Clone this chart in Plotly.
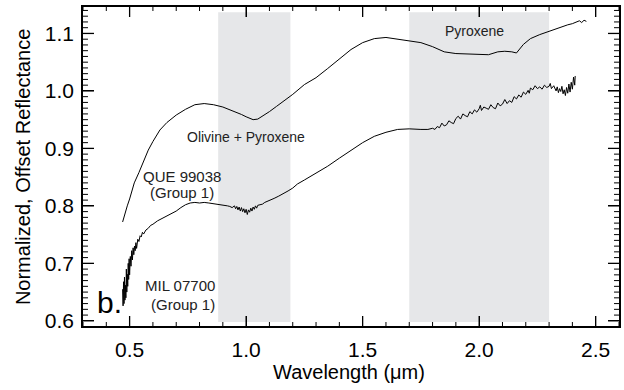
import plotly.graph_objects as go

# Upper spectrum: QUE 99038 (Group 1)
que_x = [0.47, 0.48, 0.49, 0.50, 0.51, 0.52, 0.54, 0.56, 0.58, 0.60, 0.63, 0.66, 0.70, 0.74, 0.78,
         0.82, 0.86, 0.90, 0.94, 0.98, 1.00, 1.03, 1.05, 1.07, 1.10, 1.13, 1.16, 1.20, 1.25,
         1.30, 1.35, 1.40, 1.45, 1.50, 1.55, 1.60, 1.65, 1.70, 1.75, 1.80, 1.85, 1.90, 1.95,
         2.00, 2.04, 2.08, 2.11, 2.14, 2.16, 2.19, 2.22, 2.26, 2.30, 2.34, 2.38, 2.40, 2.42,
         2.43, 2.44, 2.45, 2.46]
que_y = [0.772, 0.788, 0.800, 0.812, 0.828, 0.840, 0.858, 0.878, 0.897, 0.912, 0.932, 0.945,
         0.958, 0.968, 0.976, 0.978, 0.976, 0.972, 0.966, 0.959, 0.955, 0.950, 0.951, 0.956,
         0.964, 0.973, 0.982, 0.994, 1.011, 1.023, 1.039, 1.056, 1.072, 1.084, 1.091, 1.093,
         1.090, 1.088, 1.084, 1.077, 1.068, 1.065, 1.064, 1.063, 1.063, 1.068, 1.069, 1.068,
         1.066, 1.081, 1.091, 1.098, 1.104, 1.110, 1.115, 1.117, 1.120, 1.122, 1.119, 1.123,
         1.121]

# Lower spectrum: MIL 07700 (Group 1)
mil_x = [0.470, 0.472, 0.474, 0.476, 0.478, 0.480, 0.482, 0.484, 0.486, 0.488, 0.490, 0.492,
         0.494, 0.496, 0.498, 0.500, 0.503, 0.506, 0.509, 0.512, 0.515, 0.518, 0.521, 0.524,
         0.527, 0.530, 0.535, 0.540, 0.545, 0.550, 0.555, 0.560, 0.57, 0.58, 0.59, 0.60, 0.62,
         0.64, 0.66, 0.68, 0.70, 0.72, 0.74, 0.76, 0.78, 0.80, 0.82, 0.84, 0.86, 0.88, 0.90,
         0.92, 0.93, 0.94, 0.95, 0.955, 0.96, 0.965, 0.97, 0.975, 0.98, 0.985, 0.99, 0.995,
         1.00, 1.005, 1.01, 1.015, 1.02, 1.025, 1.03, 1.035, 1.04, 1.045, 1.05, 1.06, 1.07,
         1.08, 1.10, 1.12, 1.14, 1.16, 1.18, 1.20, 1.22, 1.25, 1.30, 1.35, 1.40, 1.45, 1.50,
         1.55, 1.60, 1.65, 1.70, 1.75, 1.78, 1.80, 1.81, 1.82, 1.83, 1.84, 1.85, 1.86, 1.87,
         1.88, 1.89, 1.90, 1.91, 1.92, 1.93, 1.94, 1.95, 1.96, 1.97, 1.98, 1.99, 2.00, 2.005,
         2.01, 2.02, 2.03, 2.04, 2.05, 2.06, 2.07, 2.08, 2.09, 2.10, 2.11, 2.12, 2.13, 2.14,
         2.15, 2.16, 2.17, 2.18, 2.19, 2.20, 2.21, 2.215, 2.22, 2.23, 2.24, 2.25, 2.26, 2.27,
         2.28, 2.29, 2.30, 2.305, 2.31, 2.32, 2.33, 2.335, 2.34, 2.345, 2.35, 2.355, 2.36,
         2.365, 2.37, 2.375, 2.38, 2.385, 2.39, 2.395, 2.40, 2.405, 2.41, 2.412]
mil_y = [0.655, 0.626, 0.668, 0.630, 0.676, 0.636, 0.662, 0.640, 0.690, 0.650, 0.681, 0.660,
         0.700, 0.672, 0.708, 0.680, 0.712, 0.695, 0.722, 0.706, 0.727, 0.715, 0.730, 0.722,
         0.736, 0.726, 0.742, 0.738, 0.748, 0.746, 0.754, 0.751, 0.758, 0.761, 0.766, 0.768,
         0.774, 0.778, 0.782, 0.787, 0.791, 0.797, 0.802, 0.805, 0.806, 0.805, 0.806, 0.805,
         0.804, 0.803, 0.802, 0.800, 0.799, 0.797, 0.800, 0.795, 0.799, 0.793, 0.798, 0.791,
         0.797, 0.790, 0.795, 0.788, 0.794, 0.785, 0.793, 0.789, 0.796, 0.791, 0.798, 0.794,
         0.800, 0.796, 0.801, 0.802, 0.803, 0.806, 0.809, 0.813, 0.817, 0.821, 0.826, 0.831,
         0.838, 0.845, 0.857, 0.869, 0.883, 0.897, 0.910, 0.921, 0.928, 0.933, 0.934, 0.933,
         0.933, 0.935, 0.933, 0.938, 0.936, 0.944, 0.939, 0.941, 0.948, 0.945, 0.943, 0.952,
         0.956, 0.951, 0.960, 0.957, 0.955, 0.964, 0.960, 0.967, 0.963, 0.969, 0.975, 0.966,
         0.972, 0.970, 0.968, 0.976, 0.971, 0.969, 0.979, 0.974, 0.977, 0.985, 0.978, 0.983,
         0.980, 0.990, 0.986, 0.993, 0.989, 0.998, 0.994, 1.001, 0.996, 1.005, 1.002, 1.009,
         1.004, 1.007, 1.003, 1.010, 1.006, 1.008, 1.013, 1.004, 1.009, 1.000, 1.007, 0.997,
         1.004, 0.999, 1.008, 0.995, 1.002, 0.992, 1.006, 0.996, 1.012, 0.998, 1.015, 1.003,
         1.024, 1.010, 1.026]

# Absorption band regions (µm)
band_starts = [0.88, 1.70]
band_ends = [1.19, 2.30]
band_labels = ["Olivine + Pyroxene", "Pyroxene"]
band_label_x = [1.00, 1.98]
band_label_y = [0.920, 1.104]

# Sample labels (one entry per text line)
sample_lines = ["QUE 99038", "(Group 1)", "MIL 07700", "(Group 1)"]
sample_x = [0.726, 0.726, 0.874, 0.874]
sample_y = [0.851, 0.823, 0.661, 0.629]
sample_anchor = ["center", "center", "right", "right"]

# Axis ranges and tick positions
X_RANGE = [0.3, 2.6]
Y_RANGE = [0.591, 1.146]
x_major = [0.5, 1.0, 1.5, 2.0, 2.5]
y_major = [0.6, 0.7, 0.8, 0.9, 1.0, 1.1]
x_minor = [round(0.3 + 0.1 * i, 2) for i in range(24)]
y_minor = [round(0.6 + 0.01 * i, 2) for i in range(55)]

FONT = "Liberation Sans, Arial, Helvetica, sans-serif"
PLOT_W, PLOT_H = 538, 319  # plot-area size in px (from margins below)

fig = go.Figure()
fig.add_trace(go.Scatter(x=que_x, y=que_y, mode="lines",
                         line=dict(color="black", width=1), showlegend=False))
fig.add_trace(go.Scatter(x=mil_x, y=mil_y, mode="lines",
                         line=dict(color="black", width=1), showlegend=False))

for x0, x1 in zip(band_starts, band_ends):
    fig.add_shape(type="rect", xref="x", yref="y", x0=x0, x1=x1, y0=0.598, y1=1.137,
                  fillcolor="#e6e7e9", line=dict(width=0), layer="below")

# inward tick marks on all four sides, drawn as a line trace built from the tick lists
px_x = (X_RANGE[1] - X_RANGE[0]) / PLOT_W
px_y = (Y_RANGE[1] - Y_RANGE[0]) / PLOT_H

def tick_path(major):
    xs, ys = [], []
    for v in x_minor:
        is_major = any(abs(v - m) < 1e-9 for m in x_major)
        if is_major != major:
            continue
        ln = (10 if major else 4) * px_y
        xs += [v, v, None, v, v, None]
        ys += [Y_RANGE[0], Y_RANGE[0] + ln, None, Y_RANGE[1], Y_RANGE[1] - ln, None]
    for v in y_minor:
        is_major = any(abs(v - m) < 1e-9 for m in y_major)
        if is_major != major:
            continue
        ln = (11 if major else 5) * px_x
        xs += [X_RANGE[0], X_RANGE[0] + ln, None, X_RANGE[1], X_RANGE[1] - ln, None]
        ys += [v, v, None, v, v, None]
    return xs, ys

for major, w in [(True, 1.3), (False, 1.0)]:
    tx, ty = tick_path(major)
    fig.add_trace(go.Scatter(x=tx, y=ty, mode="lines", line=dict(color="black", width=w),
                             showlegend=False, hoverinfo="skip", connectgaps=False))

for txt, bx, by in zip(band_labels, band_label_x, band_label_y):
    fig.add_annotation(x=bx, y=by, text=txt, showarrow=False,
                       font=dict(family=FONT, size=14, color="#222"))

for txt, sx, sy, anc in zip(sample_lines, sample_x, sample_y, sample_anchor):
    fig.add_annotation(x=sx, y=sy, text=txt, showarrow=False, xanchor=anc, yanchor="middle",
                       font=dict(family=FONT, size=15, color="#222"))

fig.add_annotation(x=0.352, y=0.632, text="b.", showarrow=False,
                   xanchor="left", yanchor="middle",
                   font=dict(family=FONT, size=30, color="black"))

fig.add_annotation(xref="paper", yref="paper", x=0.496, y=-0.143, text="Wavelength (μm)",
                   showarrow=False, xanchor="center", yanchor="middle",
                   font=dict(family=FONT, size=20, color="black"))
fig.add_annotation(xref="paper", yref="paper", x=-0.112, y=0.498,
                   text="Normalized, Offset Reflectance", textangle=-90,
                   showarrow=False, xanchor="center", yanchor="middle",
                   font=dict(family=FONT, size=20, color="black"))

fig.update_layout(
    xaxis=dict(range=X_RANGE, tickvals=x_major, ticktext=[f"{v:.1f}" for v in x_major],
               ticks="inside", ticklen=10, tickcolor="black", tickwidth=1.3,
               showline=True, linecolor="black", linewidth=1.5, mirror="ticks",
               showgrid=False, zeroline=False, ticklabelstandoff=4,
               tickfont=dict(family=FONT, size=21, color="black")),
    yaxis=dict(range=Y_RANGE, tickvals=y_major, ticktext=[f"{v:.1f}" for v in y_major],
               ticks="inside", ticklen=11, tickcolor="black", tickwidth=1.3,
               showline=True, linecolor="black", linewidth=1.5, mirror="ticks",
               showgrid=False, zeroline=False, ticklabelstandoff=3,
               tickfont=dict(family=FONT, size=21, color="black")),
    width=624, height=390, margin=dict(l=83, r=3, t=7, b=64),
    plot_bgcolor="white", paper_bgcolor="white",
)

fig.write_html("out.html")
